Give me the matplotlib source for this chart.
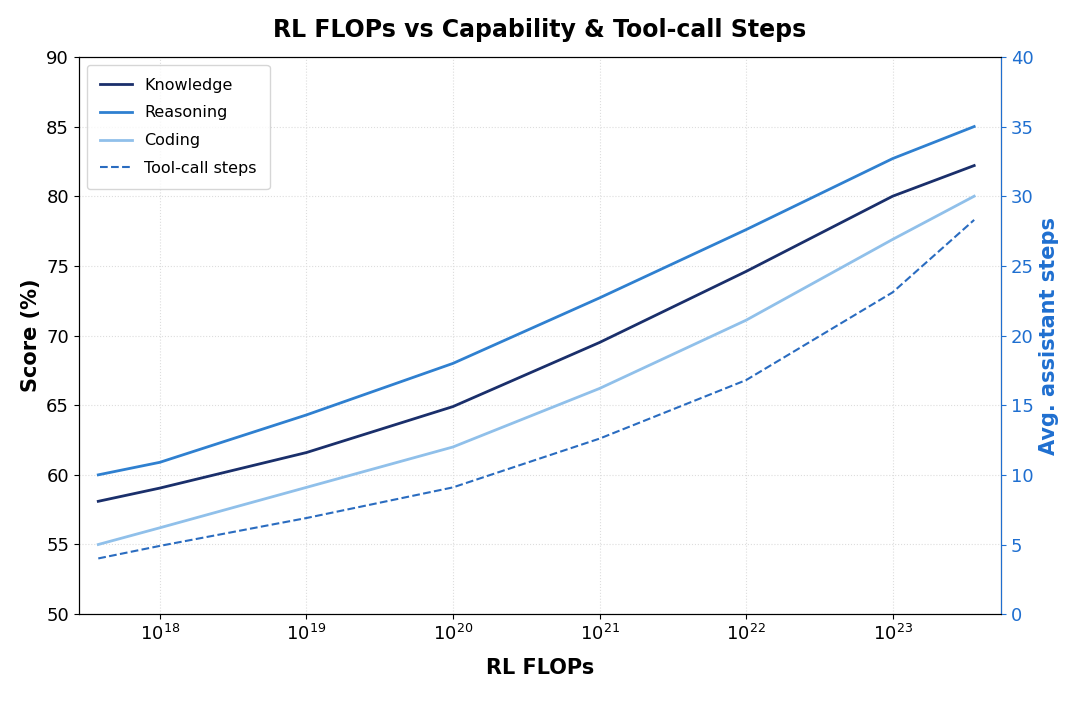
import matplotlib
matplotlib.use("Agg")
import matplotlib.pyplot as plt

flops = [3.8e17, 1e18, 1e19, 1e20, 1e21, 1e22, 1e23, 3.6e23]
knowledge = [58.1, 59.05, 61.6, 64.9, 69.5, 74.6, 80.0, 82.2]
reasoning = [60.0, 60.9, 64.3, 68.0, 72.7, 77.6, 82.7, 85.0]
coding = [55.0, 56.2, 59.1, 62.0, 66.2, 71.1, 76.9, 80.0]
tool_steps = [4.0, 4.9, 6.9, 9.1, 12.6, 16.8, 23.1, 28.3]

fig, ax = plt.subplots(figsize=(10.8, 7.2), dpi=100)
fig.subplots_adjust(left=0.073, right=0.927, top=0.921, bottom=0.147)
ax.plot(flops, knowledge, color="#1a2f6b", lw=2, label="Knowledge")
ax.plot(flops, reasoning, color="#2f80d0", lw=2, label="Reasoning")
ax.plot(flops, coding, color="#90c0ea", lw=2, label="Coding")
ax.set_xscale("log")
ax.set_xlim(2.8e17, 5.5e23)
ax.set_ylim(50, 90)
ax.grid(True, ls=":", color="#dddddd", lw=0.8)
ax.set_xlabel("RL FLOPs", fontsize=15, fontweight="bold", labelpad=10)
ax.set_ylabel("Score (%)", fontsize=15, fontweight="bold")
ax.tick_params(labelsize=13)
ax.minorticks_off()
ax.set_title("RL FLOPs vs Capability & Tool-call Steps", fontsize=17, fontweight="bold", pad=14)

ax2 = ax.twinx()
l4, = ax2.plot(flops, tool_steps, color="#2a6cc0", lw=1.5, ls="--", label="Tool-call steps")
ax2.set_ylim(0, 40)
ax2.set_ylabel("Avg. assistant steps", fontsize=15, fontweight="bold", color="#1f6fd0")
ax2.tick_params(axis="y", colors="#1f6fd0", labelsize=13)
ax2.spines["right"].set_color("#1f6fd0")

h, l = ax.get_legend_handles_labels()
ax.legend(h + [l4], l + ["Tool-call steps"], loc="upper left", fontsize=11.5, borderpad=0.8, labelspacing=0.8)
fig.savefig("out.png")
